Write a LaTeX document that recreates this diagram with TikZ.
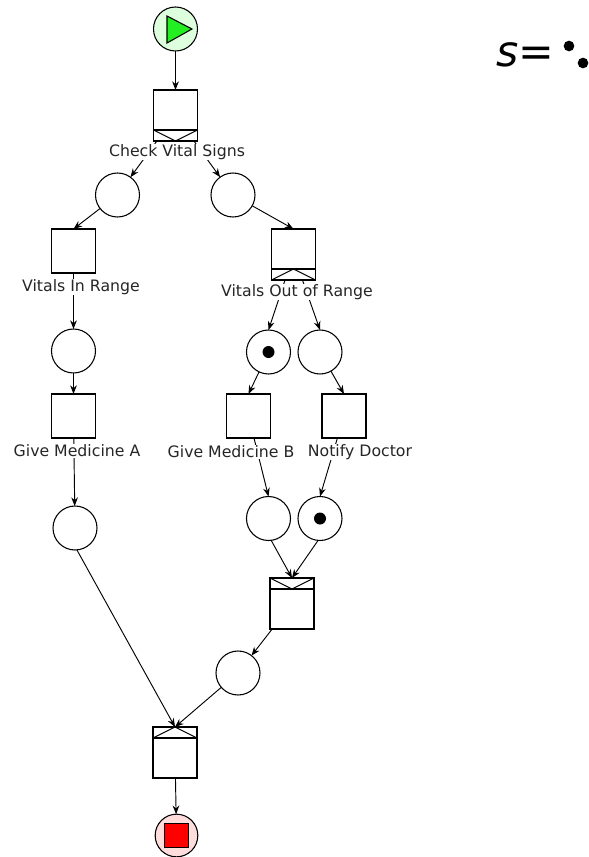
\documentclass[tikz,border=0pt]{standalone}
\usepackage{fontspec}
\setmainfont{DejaVu Sans}
\usetikzlibrary{calc, arrows.meta}
\definecolor{startbg}{HTML}{DDFFDD}
\definecolor{startfg}{HTML}{22EE22}
\definecolor{endbg}{HTML}{FFDDDD}
\tikzset{
  place/.style = {circle, draw, fill=white, line width=.8pt, minimum size=33pt, inner sep=0pt, outer sep=0pt},
  task/.style = {rectangle, draw, fill=white, line width=.8pt, minimum width=33pt, minimum height=33pt, inner sep=0pt, outer sep=0pt},
  gate/.style = {task, minimum height=38.25pt},
  dot/.style = {circle, fill=black, minimum size=#1, inner sep=0pt, outer sep=0pt},
  arc/.style = {-{Stealth[length=6.5pt,width=5pt]}, line width=.7pt},
  lbl/.style = {fill=white, font=\fontsize{11.8}{13}\selectfont, text=black!85, inner sep=.5pt}
}
\newcommand{\splitbar}[1]{
  \draw[line width=.8pt] ($(#1.south west)+(0,-11)$) -- ($(#1.south east)+(0,-11)$);
  \draw[line width=.7pt] ($(#1.south west)+(0,-11)$) -- (#1.south) -- ($(#1.south east)+(0,-11)$);
}
\newcommand{\andsplitbar}[1]{
  \draw[line width=.8pt] ($(#1.south west)+(0,-11)$) -- ($(#1.south east)+(0,-11)$);
  \draw[line width=.7pt] (#1.south west) -- ($(#1.south)+(0,-11)$) -- (#1.south east);
}
\newcommand{\joinbar}[1]{
  \draw[line width=.8pt] ($(#1.north west)+(0,11)$) -- ($(#1.north east)+(0,11)$);
  \draw[line width=.7pt] (#1.north west) -- ($(#1.north)+(0,11)$) -- (#1.north east);
}
\newcommand{\andjoinbar}[1]{
  \draw[line width=.8pt] ($(#1.north west)+(0,11)$) -- ($(#1.north east)+(0,11)$);
  \draw[line width=.7pt] ($(#1.north west)+(0,11)$) -- (#1.north) -- ($(#1.north east)+(0,11)$);
}
\begin{document}
\begin{tikzpicture}[x=.75pt,y=-.75pt]
  \useasboundingbox (0,0) rectangle (589,857);

  \node[place,fill=startbg] (start) at (175.5,29) {};
  \draw[fill=startfg,line width=.8pt,line join=miter] (167,16) -- (192,29) -- (167,43) -- cycle;
  \node[gate] (check) at (175.5,115.5) {};
  \node[place] (pa) at (117.5,195) {};
  \node[place] (pb) at (233,195) {};
  \node[task] (inrange) at (73.5,251) {};
  \node[gate] (outrange) at (293.5,254.5) {};
  \node[place] (pc) at (73.5,351) {};
  \node[task] (meda) at (73.5,416) {};
  \node[place] (pd) at (75,528) {};
  \node[place] (pe) at (268.5,352) {};
  \node[place] (pf) at (320,352) {};
  \node[dot=9pt] (tokena) at (268.5,352) {};
  \node[task] (medb) at (248.5,416) {};
  \node[task] (notify) at (344,416) {};
  \node[place] (pg) at (268.5,518.5) {};
  \node[place] (ph) at (320,518.5) {};
  \node[dot=9pt] (tokenb) at (320,518.5) {};
  \node[gate] (joinb) at (292,603.5) {};
  \node[place] (pi) at (238,673) {};
  \node[gate] (joina) at (175,752.5) {};
  \node[place,fill=endbg,minimum size=32pt] (stop) at (176.5,835.5) {};
  \node[rectangle,draw,fill=red,line width=.8pt,minimum size=18pt,inner sep=0pt] (stopsign) at (176.5,835.5) {};

  \splitbar{check}
  \andsplitbar{outrange}
  \joinbar{joinb}
  \andjoinbar{joina}

  \draw[arc] (start) -- (check.north);
  \draw[arc] (check) -- (pa);
  \draw[arc] (check) -- (pb);
  \draw[arc] (pa) -- (inrange.north);
  \draw[arc] (pb) -- (outrange.north);
  \draw[arc] (inrange) -- (pc);
  \draw[arc] (pc) -- (meda.north);
  \draw[arc] (meda) -- (pd);
  \draw[arc] (outrange) -- (pe.north);
  \draw[arc] (outrange) -- (pf.north);
  \draw[arc] (pe) -- (medb.north);
  \draw[arc] (pf) -- (notify.north);
  \draw[arc] (medb) -- (pg.north);
  \draw[arc] (notify) -- (ph.north);
  \draw[arc] (pg.-83) -- (joinb.north);
  \draw[arc] (ph.-95) -- (joinb.north);
  \draw[arc] (joinb) -- (pi);
  \draw[arc] (pd.-85) -- (joina.north);
  \draw[arc] (pi) -- (joina.north);
  \draw[arc] (joina) -- (stop);

  \node[lbl] (lcheck) at (177,152) {Check Vital Signs};
  \node[lbl] (linrange) at (81,287) {Vitals In Range};
  \node[lbl] (loutrange) at (297,292) {Vitals Out of Range};
  \node[lbl] (lmeda) at (77,451) {Give Medicine A};
  \node[lbl] (lmedb) at (231,452) {Give Medicine B};
  \node[lbl] (lnotify) at (360,452) {Notify Doctor};

  \node[inner sep=0pt,font=\itshape\fontsize{32}{36}\selectfont] (state) at (525.5,55) {s=};
  \node[dot=8pt] (statea) at (569,46) {};
  \node[dot=8pt] (stateb) at (583,63) {};
\end{tikzpicture}
\end{document}
